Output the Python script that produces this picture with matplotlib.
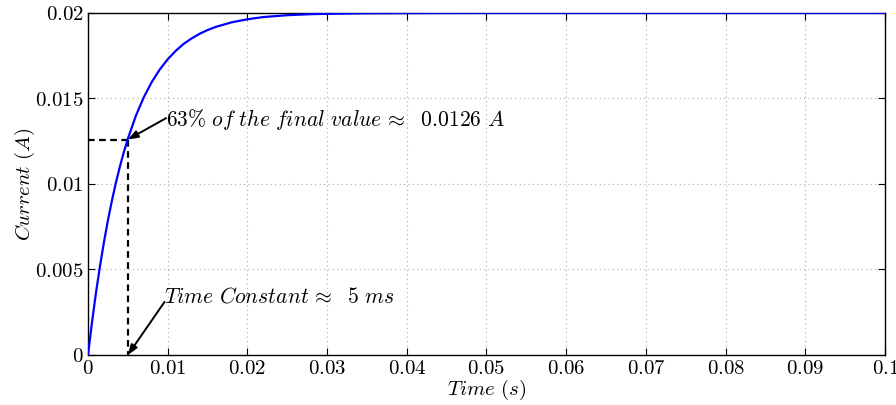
import matplotlib
matplotlib.use("Agg")
import matplotlib.pyplot as plt
from matplotlib.ticker import FuncFormatter

plt.rcParams["mathtext.fontset"] = "cm"
plt.rcParams["font.family"] = ["DejaVu Serif"]

# Step response of the RL circuit: current vs. time
time_s = [0.0, 0.0005, 0.001, 0.0015, 0.002, 0.0025, 0.003, 0.0035, 0.004, 0.0045,
          0.005, 0.006, 0.007, 0.008, 0.009, 0.010, 0.011, 0.012, 0.013, 0.014,
          0.015, 0.016, 0.018, 0.020, 0.022, 0.025, 0.028, 0.030, 0.035, 0.040,
          0.050, 0.060, 0.070, 0.080, 0.090, 0.100]
current_a = [0.0, 0.0019, 0.00363, 0.00518, 0.00659, 0.00787, 0.00902, 0.01007, 0.01101, 0.01187,
             0.01264, 0.01398, 0.01507, 0.01596, 0.01669, 0.01729, 0.01778, 0.01819, 0.01851, 0.01878,
             0.01900, 0.01918, 0.01945, 0.01963, 0.01976, 0.01987, 0.01993, 0.01995, 0.01998, 0.01999,
             0.02000, 0.02000, 0.02000, 0.02000, 0.02000, 0.02000]

tau_s = 0.005
i_tau = 0.0126

x_ticks = [0, 0.01, 0.02, 0.03, 0.04, 0.05, 0.06, 0.07, 0.08, 0.09, 0.1]
y_ticks = [0, 0.005, 0.01, 0.015, 0.02]

fig = plt.figure(figsize=(8.96, 4.05), dpi=100)
ax = fig.add_axes([0.0982, 0.1235, 0.8895, 0.8445])

ax.plot(time_s, current_a, color="#0000ff", lw=1.6, solid_capstyle="butt", zorder=3)

# dashed guides for the time constant
dash = (0, (3, 2))
ax.plot([0, tau_s], [i_tau, i_tau], color="black", ls=dash, lw=1.6, zorder=2)
ax.plot([tau_s, tau_s], [i_tau, 0], color="black", ls=dash, lw=1.6, zorder=2)

arrow = dict(arrowstyle="-|>,head_length=0.6,head_width=0.22", color="black", lw=1.4,
             shrinkA=0, shrinkB=0)

note_1 = (0.0098, 0.01375)
note_2 = (0.0096, 0.0034)
ax.annotate("", xy=(tau_s, i_tau), xytext=(note_1[0], note_1[1] + 0.0001),
            arrowprops=arrow, zorder=4)
ax.text(note_1[0], note_1[1],
        r"$63\%\ of\ the\ final\ value\,\approx\ \ 0.0126\ A$",
        fontsize=15.5, ha="left", va="center", zorder=4)
ax.annotate("", xy=(tau_s, 0), xytext=(note_2[0], note_2[1] - 0.0003),
            arrowprops=arrow, zorder=4)
ax.text(note_2[0], note_2[1], r"$Time\ Constant\,\approx\ \ 5\ ms$",
        fontsize=15.5, ha="left", va="center", zorder=4)

ax.set_xlim(0, 0.1)
ax.set_ylim(0, 0.02)
ax.set_xticks(x_ticks)
ax.set_yticks(y_ticks)
fmt = FuncFormatter(lambda v, p: "$%s$" % ("%g" % v))
ax.xaxis.set_major_formatter(fmt)
ax.yaxis.set_major_formatter(fmt)
ax.tick_params(direction="in", top=True, right=True, length=5, width=0.8,
               labelsize=15, pad=3)
for s in ax.spines.values():
    s.set_linewidth(1.0)
ax.grid(True, color="#aaaaaa", ls=(0, (1, 3)), lw=0.8)

ax.set_xlabel(r"$Time\ (s)$", fontsize=15, labelpad=0)
ax.set_ylabel(r"$Current\ (A)$", fontsize=15, labelpad=-1)

fig.savefig("out.png", dpi=100)
